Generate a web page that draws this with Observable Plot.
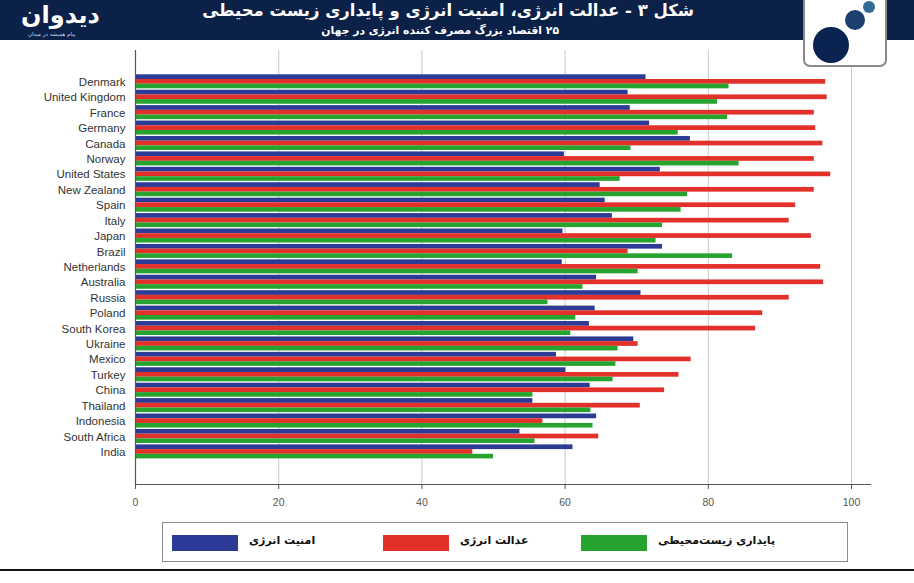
<!DOCTYPE html>
<html>
<head>
<meta charset="utf-8">
<script src="https://cdn.jsdelivr.net/npm/d3@7"></script>
<script src="https://cdn.jsdelivr.net/npm/@observablehq/plot@0.6"></script>
<style>
  html, body { margin: 0; padding: 0; background: #fff; }
  #root { position: relative; width: 914px; height: 583px; overflow: hidden; background: #fff; }
  #header { position: absolute; left: 0; top: 0; width: 914px; height: 40px; background: #0c2148; }
  .fa { font-family: "DejaVu Sans", sans-serif; direction: rtl; white-space: nowrap; position: absolute; }
  #title { color: #fff; font-weight: bold; font-size: 16.5px; line-height: 20px; right: 220px; top: 1px; }
  #subtitle { color: #fff; font-weight: bold; font-size: 10.8px; line-height: 13px; right: 355px; top: 24px; }
  #brand { color: #fff; font-weight: bold; font-size: 24px; line-height: 28px; left: 21px; top: 1px; }
  #tagline { color: #cfd6e6; font-size: 5.5px; line-height: 7px; left: 28px; top: 31px; }
  #logo { position: absolute; left: 803px; top: -3px; width: 80px; height: 66px; background: #fff; border: 2px solid #8a8a8a; border-radius: 0 0 7px 7px; }
  #chart { position: absolute; left: 0; top: 40px; }
  #legend { position: absolute; left: 162px; top: 522px; width: 684px; height: 38px; border: 1.5px solid #8c8c8c; background: #fff; }
  .sw { position: absolute; top: 12px; width: 66px; height: 16px; }
  .lab { font-weight: bold; font-size: 11px; color: #111; top: 11px; }
  #bottomline { position: absolute; left: 0; top: 569px; width: 914px; height: 2px; background: #111; }
</style>
</head>
<body>
<div id="root">
  <div id="chart"></div>
  <div id="header"></div>
  <div id="title" class="fa">شکل ۳ - عدالت انرژی، امنیت انرژی و پایداری زیست محیطی</div>
  <div id="subtitle" class="fa">۲۵ اقتصاد بزرگ مصرف کننده انرژی در جهان</div>
  <div id="brand" class="fa">دیدوان</div>
  <div id="tagline" class="fa">پیام همیشه در میدان</div>
  <div id="logo">
    <svg width="80" height="66">
      <circle cx="26" cy="46" r="18" fill="#0b2350"/>
      <circle cx="50" cy="21" r="10" fill="#1d3f6e"/>
      <circle cx="64" cy="8" r="6" fill="#2f6d94"/>
    </svg>
  </div>
  <div id="legend"></div>
  <div id="bottomline"></div>
</div>
<script>
const countries = ["Denmark","United Kingdom","France","Germany","Canada","Norway","United States","New Zealand","Spain","Italy","Japan","Brazil","Netherlands","Australia","Russia","Poland","South Korea","Ukraine","Mexico","Turkey","China","Thailand","Indonesia","South Africa","India"];

// امنیت انرژی (blue)
const energySecurity = [71.3, 68.8, 69.1, 71.8, 77.5, 59.9, 73.3, 64.9, 65.6, 66.6, 59.7, 73.6, 59.6, 64.4, 70.6, 64.2, 63.4, 69.6, 58.8, 60.1, 63.5, 55.5, 64.4, 53.7, 61.1];
// عدالت انرژی (red)
const energyEquity = [96.4, 96.6, 94.8, 95.0, 96.0, 94.8, 97.1, 94.8, 92.2, 91.3, 94.4, 68.8, 95.7, 96.1, 91.3, 87.6, 86.6, 70.2, 77.6, 75.9, 73.9, 70.5, 56.9, 64.7, 47.1];
// پایداری زیست‌محیطی (green)
const sustainability = [82.9, 81.3, 82.7, 75.8, 69.2, 84.3, 67.7, 77.1, 76.2, 73.6, 72.7, 83.4, 70.2, 62.5, 57.6, 61.5, 60.8, 67.4, 67.1, 66.7, 55.5, 63.6, 63.9, 55.8, 50.0];

const seriesNames = ["امنیت انرژی", "عدالت انرژی", "پایداری زیست‌محیطی"];
const seriesColors = ["#2c3b95", "#e2302a", "#27a330"];
const xTicks = [0, 20, 40, 60, 80, 100];

const seriesValues = [energySecurity, energyEquity, sustainability];
const tables = seriesValues.map(vals => countries.map((c, i) => ({country: c, value: vals[i]})));

// position of each series' bar inside a country's band (px insets)
const bandInsets = [[0.3, 10.4], [5.0, 5.7], [9.7, 1.1]];

const chart = Plot.plot({
  width: 914,
  height: 480,
  marginTop: 10,
  marginBottom: 36,
  marginLeft: 135,
  marginRight: 44,
  style: {fontFamily: "Liberation Sans, Arial, sans-serif", fontSize: "11.5px", color: "#333", background: "transparent"},
  x: {domain: [0, 100], insetRight: 19},
  y: {domain: countries, padding: 0, round: false, insetTop: 24, insetBottom: 24.5},
  marks: [
    Plot.gridX({ticks: xTicks, stroke: "#c8c8c8", strokeOpacity: 1, strokeWidth: 1}),
    ...tables.map((t, k) => Plot.barX(t, {
      x: "value", y: "country", fill: seriesColors[k],
      insetTop: bandInsets[k][0], insetBottom: bandInsets[k][1]
    })),
    Plot.frame({anchor: "left", stroke: "#555", strokeWidth: 1.2}),
    Plot.frame({anchor: "bottom", stroke: "#555", strokeWidth: 1.2}),
    Plot.axisY({tickSize: 0, tickPadding: 10, label: null, fill: "#333", fontSize: 11.5}),
    Plot.axisX({ticks: xTicks, tickSize: 5, tickPadding: 9, label: null, stroke: "#555", fill: "#555", fontSize: 10.5, tickFormat: d => String(d)})
  ]
});
document.getElementById("chart").appendChild(chart);

// legend from series arrays
const legend = document.getElementById("legend");
const swatchX = [9, 220, 418];
seriesNames.forEach((name, k) => {
  const sw = document.createElement("div");
  sw.className = "sw";
  sw.style.left = swatchX[k] + "px";
  sw.style.background = seriesColors[k];
  legend.appendChild(sw);
  const lab = document.createElement("div");
  lab.className = "fa lab";
  lab.style.left = (swatchX[k] + 77) + "px";
  lab.textContent = name;
  legend.appendChild(lab);
});
</script>
</body>
</html>
